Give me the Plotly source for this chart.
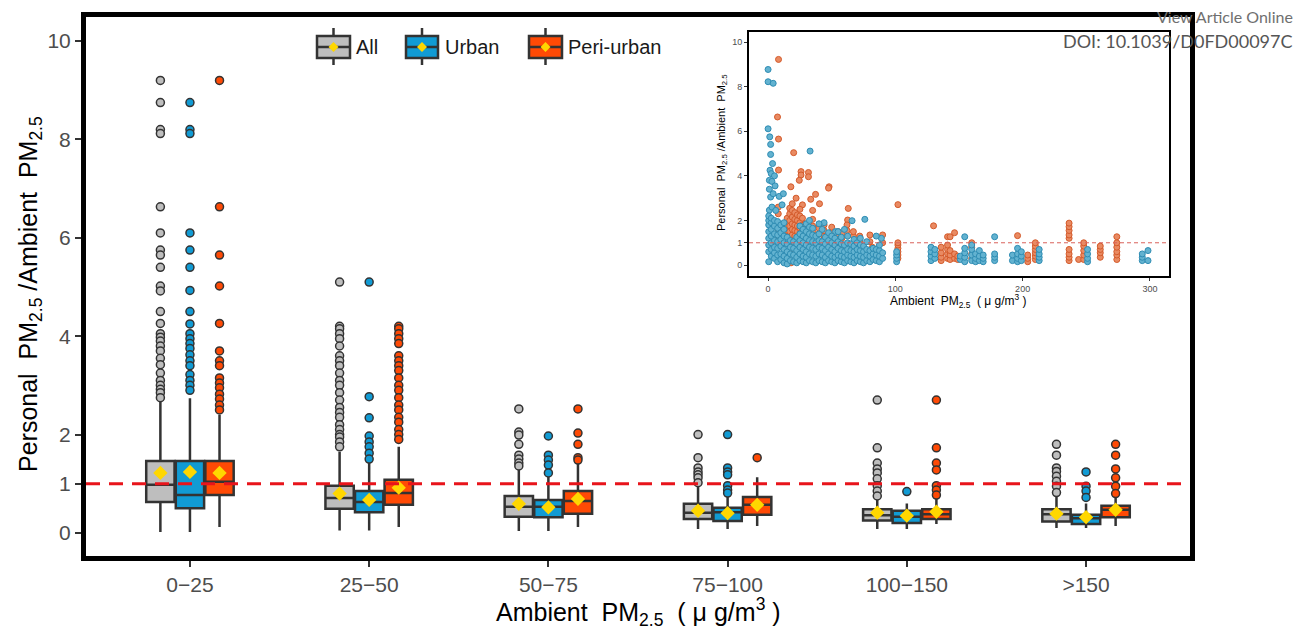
import plotly.graph_objects as go

# ---------------- main box-plot data ----------------
categories = ["0\u221225", "25\u221250", "50\u221275", "75\u2212100", "100\u2212150", ">150"]
series_names = ["All", "Urban", "Peri-urban"]
series_colors = ["#bebebe", "#119bd4", "#ff4a05"]

all_lowerfence = [0.02, 0.05, 0.04, 0.08, 0.08, 0.10]
all_q1 = [0.63, 0.49, 0.33, 0.28, 0.25, 0.23]
all_median = [0.98, 0.71, 0.53, 0.41, 0.36, 0.38]
all_q3 = [1.46, 0.96, 0.75, 0.59, 0.48, 0.48]
all_upperfence = [2.70, 1.65, 1.30, 0.97, 0.70, 0.77]
all_mean = [1.22, 0.80, 0.59, 0.45, 0.41, 0.39]
all_outliers = [
    [9.2, 8.75, 8.2, 8.12, 6.63, 6.1, 5.75, 5.65, 5.4, 5.02, 4.92, 4.5, 4.26, 4.05, 3.98, 3.9,
     3.8, 3.7, 3.55, 3.42, 3.25, 3.1, 3.0, 2.92, 2.85, 2.75],
    [5.1, 4.2, 4.15, 4.05, 3.95, 3.8, 3.6, 3.5, 3.4, 3.25, 3.1, 3.0, 2.85, 2.7, 2.55, 2.45,
     2.35, 2.2, 2.1, 2.0, 1.95, 1.85, 1.75],
    [2.52, 2.05, 1.99, 1.8, 1.58, 1.5, 1.42, 1.36],
    [2.0, 1.53, 1.32, 1.24, 1.18, 1.12, 1.02],
    [2.7, 1.73, 1.42, 1.3, 1.22, 1.1, 0.96, 0.85, 0.75],
    [1.8, 1.58, 1.32, 1.25, 1.15, 1.05, 0.95, 0.82],
]

urban_lowerfence = [0.02, 0.05, 0.04, 0.08, 0.08, 0.10]
urban_q1 = [0.50, 0.42, 0.32, 0.24, 0.20, 0.18]
urban_median = [0.77, 0.63, 0.53, 0.42, 0.33, 0.30]
urban_q3 = [1.46, 0.85, 0.67, 0.51, 0.45, 0.37]
urban_upperfence = [2.74, 1.42, 1.20, 0.73, 0.60, 0.60]
urban_mean = [1.24, 0.67, 0.52, 0.40, 0.35, 0.32]
urban_outliers = [
    [8.75, 8.2, 8.12, 6.1, 5.75, 5.4, 4.93, 4.5, 4.25, 4.05, 3.95, 3.85, 3.75, 3.62, 3.5, 3.4,
     3.22, 3.1, 3.0, 2.9],
    [5.1, 2.77, 2.34, 1.97, 1.85, 1.75, 1.62, 1.5],
    [1.97, 1.58, 1.48, 1.38, 1.22],
    [2.0, 1.32, 1.24, 1.18, 0.96, 0.87, 0.81],
    [0.84],
    [1.24, 0.95, 0.85, 0.72],
]

peri_lowerfence = [0.12, 0.12, 0.12, 0.14, 0.18, 0.14]
peri_q1 = [0.77, 0.57, 0.39, 0.37, 0.28, 0.32]
peri_median = [1.04, 0.81, 0.65, 0.57, 0.38, 0.47]
peri_q3 = [1.46, 1.08, 0.85, 0.73, 0.48, 0.55]
peri_upperfence = [2.40, 1.75, 1.50, 1.13, 0.70, 0.72]
peri_mean = [1.22, 0.92, 0.69, 0.57, 0.43, 0.47]
peri_outliers = [
    [9.2, 6.63, 5.65, 5.02, 4.26, 3.7, 3.5, 3.4, 3.15, 3.05, 2.95, 2.82, 2.72, 2.6, 2.5],
    [4.2, 4.15, 4.05, 3.95, 3.85, 3.6, 3.5, 3.4, 3.3, 3.15, 3.0, 2.9, 2.75, 2.6, 2.5, 2.35,
     2.25, 2.1, 2.0, 1.9],
    [2.52, 2.03, 1.8, 1.53, 1.48],
    [1.53],
    [2.7, 1.73, 1.42, 1.28, 0.96, 0.87, 0.77],
    [1.8, 1.58, 1.3, 1.12, 0.95, 0.8],
]

y_ticks = [0, 1, 2, 4, 6, 8, 10]

# ---------------- inset scatter data (columns of points) ----------------
inset_urban_x = [0, 0, 4, 0, 1.3, 2, 2, 33, 3.5, 1.5, 2.5, 5, 1, 3, 5.5, 1, 2, 4, 8.7, 12, 11, 1, 3, 6,
                 44, 66, 76, 53, 89]
inset_urban_y = [8.77, 8.22, 8.15, 6.11, 5.75, 5.41, 4.96, 5.11, 4.55, 4.25, 4.1, 4.0, 3.8, 3.75, 3.55,
                 3.4, 3.05, 3.2, 3.08, 3.2, 2.7, 2.46, 2.6, 2.45, 1.9, 1.99, 2.05, 1.5, 1.2]
inset_urban_col_x = [0.5, 2.5, 5, 7.5, 10, 12.5, 15, 17.5, 20, 22.5, 25, 27.5, 30, 32.5, 35, 37.5, 40,
                     42.5, 45, 47.5, 50, 52.5, 55, 57.5, 60, 62.5, 65, 67.5, 70, 72.5, 75, 77.5, 80,
                     82.5, 85, 87.5, 90, 101, 128, 131, 151, 154.5, 160, 163, 166, 169, 178, 192,
                     196, 199, 213, 251, 294, 298.5]
inset_urban_col_y = [
    [0.15, 0.6, 0.9, 1.2, 1.5, 1.8, 2.0, 2.2], [0.4, 0.7, 1.0, 1.3, 1.6, 1.9, 2.1],
    [0.3, 0.55, 0.8, 1.1, 1.4, 1.75, 2.0], [0.15, 0.45, 0.75, 1.05, 1.35, 1.65, 1.95],
    [0.25, 0.5, 0.85, 1.15, 1.45, 1.8], [0.1, 0.4, 0.7, 1.0, 1.3, 1.6, 1.9],
    [0.05, 0.3, 0.6, 0.95, 1.25], [0.2, 0.5, 0.8, 1.1], [0.15, 0.45, 0.75, 1.05],
    [0.1, 0.35, 0.65, 0.95, 1.25], [0.2, 0.5, 0.8, 1.1, 1.4, 1.75], [0.15, 0.4, 0.7, 1.0, 1.3, 1.6],
    [0.1, 0.35, 0.6, 0.9, 1.2, 1.5, 1.85], [0.2, 0.5, 0.8, 1.1, 1.4, 1.7, 2.0],
    [0.15, 0.45, 0.75, 1.05, 1.35, 1.65], [0.1, 0.4, 0.7, 1.0, 1.3], [0.2, 0.5, 0.8, 1.1, 1.4, 1.85],
    [0.15, 0.45, 0.75, 1.05, 1.6], [0.1, 0.35, 0.65, 0.95, 1.25], [0.2, 0.5, 0.8, 1.1, 1.45],
    [0.15, 0.4, 0.7, 1.0, 1.3], [0.1, 0.35, 0.6, 0.9, 1.2], [0.2, 0.45, 0.75, 1.05, 1.5],
    [0.15, 0.4, 0.65, 0.95, 1.25], [0.1, 0.35, 0.6, 0.9, 1.6], [0.2, 0.45, 0.7, 1.0, 1.3],
    [0.15, 0.4, 0.65, 0.95], [0.1, 0.35, 0.6, 0.85, 1.15], [0.2, 0.45, 0.7, 1.0],
    [0.15, 0.4, 0.65, 0.9, 1.2], [0.1, 0.35, 0.6, 0.85], [0.2, 0.45, 0.7, 1.05], [0.15, 0.4, 0.65],
    [0.25, 0.5, 0.75], [0.2, 0.45, 0.7, 1.3], [0.15, 0.4, 0.65, 0.9], [0.3, 0.55],
    [0.15, 0.3, 0.45, 0.6], [0.2, 0.4, 0.6, 0.8], [0.3, 0.5, 0.7], [0.25, 0.4],
    [0.15, 0.35, 0.55, 0.75, 1.27], [0.2, 0.45, 0.7, 0.9], [0.15, 0.3, 0.5], [0.2, 0.4, 0.65],
    [0.15, 0.3, 0.45], [0.2, 0.35, 0.5, 1.27], [0.2, 0.45], [0.15, 0.3, 0.5, 0.75], [0.2, 0.4, 0.6],
    [0.2, 0.35, 0.5, 0.7], [0.15, 0.3, 0.5, 0.7], [0.2, 0.35, 0.5], [0.2, 0.65],
]

inset_peri_x = [8.2, 7.4, 8.2, 20.1, 8.2, 25.9, 25.9, 31.7, 31.7, 47.9, 47.5, 17.9, 24.5, 37.3, 63,
                62.5, 40.4, 22, 27, 33.5, 35, 130, 196]
inset_peri_y = [9.22, 6.64, 5.65, 5.04, 4.26, 4.19, 4.04, 4.15, 3.96, 3.51, 3.45, 3.51, 3.8, 3.17,
                2.54, 2.02, 2.75, 3.0, 2.7, 2.95, 2.45, 1.76, 1.32]
inset_peri_col_x = [8, 15, 17, 19, 21, 23, 25, 27, 29, 35, 40, 44, 50, 55, 58, 62, 67, 72, 80, 90,
                    102, 18, 30, 48, 60, 70, 82, 136, 141, 143, 146.5, 149, 160, 204, 210, 236.5,
                    244, 248, 261, 274]
inset_peri_col_y = [
    [1.2, 1.6, 2.3, 2.6], [1.3, 1.55, 1.8, 2.1], [1.25, 1.5, 1.75, 2.0, 2.3, 2.55],
    [1.35, 1.6, 1.85, 2.15, 2.45, 2.75], [1.3, 1.55, 1.8, 2.05, 2.35], [1.25, 1.5, 1.75, 2.0, 2.25],
    [1.4, 1.65, 1.9, 2.2, 2.5], [1.3, 1.55, 1.8, 2.1], [1.35, 1.6, 1.85], [1.5, 1.75, 2.05],
    [1.4, 1.65], [1.3, 1.55, 1.8], [1.2, 1.45, 1.7], [1.25, 1.5], [1.2, 1.4], [1.55, 1.8],
    [1.3, 1.5], [1.1, 1.3], [1.05, 1.35], [1.0, 1.35], [0.3, 0.45, 0.6, 0.75, 0.9, 1.0, 2.71],
    [0.1, 0.5, 0.9], [0.2, 0.7, 1.1], [0.3, 0.9], [0.25, 0.8], [0.35, 0.75], [0.4, 0.8],
    [0.2, 0.35, 0.55, 0.8], [0.3, 0.5, 0.7, 0.9, 1.27], [0.25, 0.45, 0.65, 1.27], [0.3, 0.5, 1.45],
    [0.25, 0.4], [0.3, 0.5, 0.8, 1.0], [0.15, 0.3, 0.45], [0.25, 0.4, 0.55, 0.7, 0.85, 1.0],
    [0.2, 0.35, 0.5, 0.7, 1.2, 1.35, 1.55, 1.72, 1.88], [0.25], [0.25, 0.45, 0.65, 0.85, 1.0],
    [0.35, 0.55, 0.7, 0.85], [0.25, 0.45, 0.6, 0.8, 1.0, 1.27],
]
inset_x_ticks = [0, 100, 200, 300]

# ---------------- styles ----------------
FONT = "Liberation Sans, Arial, sans-serif"
EDGE = "#333333"
offsets = [-0.165, 0.0, 0.165]
box_w = 0.158

stats = [
    (all_lowerfence, all_q1, all_median, all_q3, all_upperfence, all_mean, all_outliers),
    (urban_lowerfence, urban_q1, urban_median, urban_q3, urban_upperfence, urban_mean, urban_outliers),
    (peri_lowerfence, peri_q1, peri_median, peri_q3, peri_upperfence, peri_mean, peri_outliers),
]

fig = go.Figure()
idx = list(range(len(categories)))
for s, (lf, q1, med, q3, uf, mean, outl) in enumerate(stats):
    pos = [i + offsets[s] for i in idx]
    fig.add_trace(go.Box(
        x=pos, q1=q1, median=med, q3=q3, lowerfence=lf, upperfence=uf,
        width=box_w, fillcolor=series_colors[s], line=dict(color=EDGE, width=2.5),
        whiskerwidth=0, boxpoints=False, name=series_names[s], showlegend=False,
        hoverinfo="skip"))
    ox, oy = [], []
    for i in idx:
        ox += [pos[i]] * len(outl[i])
        oy += outl[i]
    fig.add_trace(go.Scatter(
        x=ox, y=oy, mode="markers", showlegend=False, hoverinfo="skip",
        marker=dict(size=8, color=series_colors[s], line=dict(color=EDGE, width=1.5))))
for s, (lf, q1, med, q3, uf, mean, outl) in enumerate(stats):
    pos = [i + offsets[s] for i in idx]
    fig.add_trace(go.Scatter(
        x=pos, y=mean, mode="markers", showlegend=False, hoverinfo="skip",
        marker=dict(symbol="diamond", size=11, color="#ffd700", line=dict(width=0))))


def flatten(cx, cy):
    xs, ys = [], []
    for x, col in zip(cx, cy):
        xs += [x] * len(col)
        ys += col
    return xs, ys


px_, py_ = flatten(inset_peri_col_x, inset_peri_col_y)
ux_, uy_ = flatten(inset_urban_col_x, inset_urban_col_y)
fig.add_trace(go.Scatter(
    x=inset_peri_x + px_, y=inset_peri_y + py_, mode="markers", xaxis="x2", yaxis="y2",
    showlegend=False, hoverinfo="skip",
    marker=dict(size=6, color="#e98a62", line=dict(color="#d45a2a", width=1))))
fig.add_trace(go.Scatter(
    x=inset_urban_x + ux_, y=inset_urban_y + uy_, mode="markers", xaxis="x2", yaxis="y2",
    showlegend=False, hoverinfo="skip",
    marker=dict(size=6, color="#62b2d0", line=dict(color="#2e8cb3", width=1))))

# reference lines
fig.add_hline(y=1, line=dict(color="#e8141b", width=3, dash="14px,9px"))
fig.add_shape(type="line", xref="x2 domain", x0=0, x1=1, yref="y2", y0=1, y1=1,
              line=dict(color="#d9625a", width=1, dash="4px,3px"))

# ---------------- pixel helpers for decorations ----------------
L, R, T, B = 86, 1190, 17, 556


def px(X):
    return (X - L) / (R - L)


def py(Y):
    return (B - Y) / (B - T)


legend_items = [("All", 317, 350, 354), ("Urban", 406, 438, 443), ("Peri-urban", 529, 562, 566)]
for (label, x0, x1, tx), col in zip(legend_items, series_colors):
    cx = (x0 + x1) / 2
    fig.add_shape(type="line", xref="paper", yref="paper", x0=px(cx), x1=px(cx), y0=py(28), y1=py(65),
                  line=dict(color=EDGE, width=2.5))
    fig.add_shape(type="rect", xref="paper", yref="paper", x0=px(x0), x1=px(x1), y0=py(36), y1=py(58),
                  fillcolor=col, line=dict(color=EDGE, width=2.5))
    fig.add_shape(type="line", xref="paper", yref="paper", x0=px(x0), x1=px(x1), y0=py(47), y1=py(47),
                  line=dict(color=EDGE, width=2.5))
    fig.add_shape(type="path", xref="paper", yref="paper",
                  path=f"M {px(cx)},{py(42)} L {px(cx + 5)},{py(47)} L {px(cx)},{py(52)} L {px(cx - 5)},{py(47)} Z",
                  fillcolor="#ffd700", line=dict(width=0))
    fig.add_annotation(xref="paper", yref="paper", x=px(tx), y=py(47), text=label, showarrow=False,
                       xanchor="left", yanchor="middle", font=dict(family=FONT, size=20, color="#1a1a1a"))

# axis titles
fig.add_annotation(xref="paper", yref="paper", x=0, y=py(294), xshift=-56, textangle=-90,
                   text="Personal  PM<sub>2.5</sub> /Ambient  PM<sub>2.5</sub>", showarrow=False,
                   xanchor="center", yanchor="middle", font=dict(family=FONT, size=25, color="#000000"))
fig.add_annotation(xref="paper", yref="paper", x=px(638), y=py(612),
                   text="Ambient  PM<sub>2.5</sub>  ( \u03bc g/m<sup>3</sup> )", showarrow=False,
                   xanchor="center", yanchor="middle", font=dict(family=FONT, size=25, color="#000000"))
# inset titles
fig.add_annotation(xref="paper", yref="paper", x=px(722), y=py(153), textangle=-90,
                   text="Personal  PM<sub>2.5</sub> /Ambient  PM<sub>2.5</sub>", showarrow=False,
                   xanchor="center", yanchor="middle", font=dict(family=FONT, size=11, color="#000000"))
fig.add_annotation(xref="paper", yref="paper", x=px(958), y=py(301),
                   text="Ambient  PM<sub>2.5</sub>  ( \u03bc g/m<sup>3</sup> )", showarrow=False,
                   xanchor="center", yanchor="middle", font=dict(family=FONT, size=12, color="#000000"))
# page header texts
fig.add_annotation(xref="paper", yref="paper", x=px(1295), y=py(16), text="View Article Online",
                   showarrow=False, xanchor="right", yanchor="middle",
                   font=dict(family="Lato, Open Sans, sans-serif", size=16, color="#6f6f6f"))
fig.add_annotation(xref="paper", yref="paper", x=px(1295), y=py(41), text="DOI: 10.1039/D0FD00097C",
                   showarrow=False, xanchor="right", yanchor="middle",
                   font=dict(family="Lato, Open Sans, sans-serif", size=18, color="#555555"))

fig.update_layout(
    width=1296, height=633, margin=dict(l=L, r=1296 - R, t=T, b=633 - B),
    paper_bgcolor="white", plot_bgcolor="white", showlegend=False,
    boxmode="overlay",
    xaxis=dict(range=[-0.58, 5.58], tickmode="array", tickvals=idx, ticktext=categories,
               showgrid=False, zeroline=False, showline=True, linecolor="black", linewidth=5,
               mirror=True, ticks="outside", ticklen=6, tickwidth=1.5, tickcolor=EDGE,
               tickfont=dict(family=FONT, size=21, color="#4d4d4d")),
    yaxis=dict(range=[-0.47, 10.49], tickmode="array", tickvals=y_ticks,
               showgrid=False, zeroline=False, showline=True, linecolor="black", linewidth=5,
               mirror=True, ticks="outside", ticklen=6, tickwidth=1.5, tickcolor=EDGE,
               tickfont=dict(family=FONT, size=21, color="#4d4d4d")),
    xaxis2=dict(domain=[px(749), px(1169)], anchor="y2", range=[-15, 315], tickmode="array",
                tickvals=inset_x_ticks, showgrid=False, zeroline=False, showline=True,
                linecolor="black", linewidth=2, mirror=True, ticks="outside", ticklen=3,
                tickcolor=EDGE, tickfont=dict(family=FONT, size=9, color="#4d4d4d")),
    yaxis2=dict(domain=[py(276), py(32)], anchor="x2", range=[-0.49, 10.45], tickmode="array",
                tickvals=y_ticks, showgrid=False, zeroline=False, showline=True,
                linecolor="black", linewidth=2, mirror=True, ticks="outside", ticklen=3,
                tickcolor=EDGE, tickfont=dict(family=FONT, size=9, color="#4d4d4d")),
)

fig.write_html("out.html")
